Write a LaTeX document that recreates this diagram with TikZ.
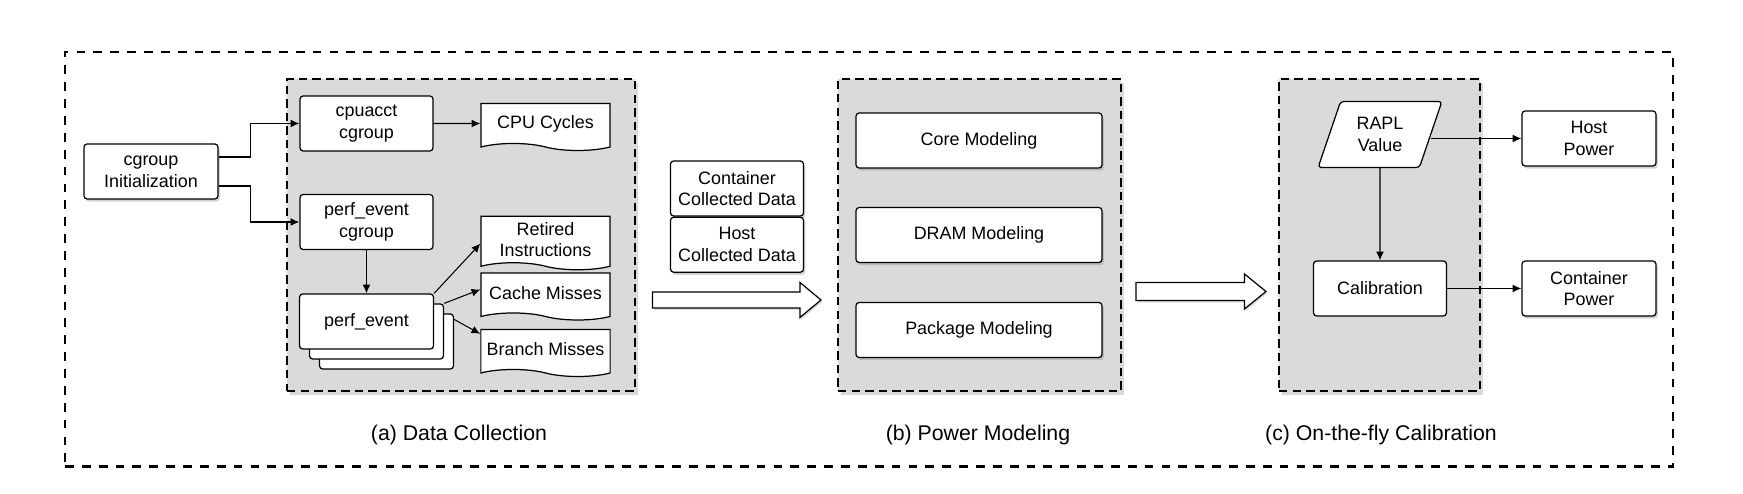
\documentclass[tikz,border=0pt]{standalone}
\usepackage{fontspec}
\setmainfont{Liberation Sans}
\usetikzlibrary{shapes.geometric,shapes.symbols,arrows.meta,positioning,shadows}
\definecolor{panelgray}{RGB}{218,218,218}
\newcommand{\boxfont}{\fontsize{10.2pt}{12.3pt}\selectfont}

\begin{document}
\begin{tikzpicture}[
	outerbox/.style={
		rectangle,
		draw=black,
		line width=1.3pt,
		dash pattern=on 5pt off 4.6pt
	},
	panel/.style={
		rectangle,
		draw=black,
		fill=panelgray,
		line width=1.4pt,
		dash pattern=on 4.8pt off 2.9pt,
		minimum height=6.24cm,
		drop shadow={shadow xshift=1.5pt, shadow yshift=-2pt, opacity=0.3}
	},
	procbox/.style={
		rectangle,
		rounded corners=1.8pt,
		draw=black,
		fill=white,
		line width=0.7pt,
		minimum width=2.66cm,
		minimum height=1.1cm,
		align=center,
		font=\boxfont
	},
	shadowed/.style={
		drop shadow={shadow xshift=1pt, shadow yshift=-1.5pt, opacity=0.35}
	},
	docbox/.style={
		tape,
		tape bend top=none,
		tape bend bottom=out and in,
		tape bend height=4pt,
		draw=black,
		fill=white,
		line width=0.7pt,
		minimum width=2.58cm,
		minimum height=0.94cm,
		align=center,
		font=\boxfont
	},
	arrow/.style={
		-{Latex[length=5pt,width=4.5pt]},
		line width=0.6pt
	},
	bigarrow/.style={
		draw=black,
		fill=white,
		line width=0.7pt,
		drop shadow={shadow xshift=0.8pt, shadow yshift=-1.2pt, opacity=0.25}
	},
	caption/.style={
		font=\fontsize{12.1pt}{14pt}\selectfont
	}
	]
	
	\useasboundingbox (0,0) rectangle (34.86,9.88);
	
	% Outer frame
	\node[outerbox, minimum width=32.16cm, minimum height=8.29cm] (outer) at (17.38,4.695) {};
	
	% Panels
	\node[panel, minimum width=6.96cm] (panelA) at (9.22,5.18) {};
	\node[panel, minimum width=5.66cm] (panelB) at (19.59,5.18) {};
	\node[panel, minimum width=4.02cm] (panelC) at (27.59,5.18) {};
	
	% Panel captions
	\node[caption] (capA) at (9.18,1.18) {(a) Data Collection};
	\node[caption] (capB) at (19.56,1.18) {(b) Power Modeling};
	\node[caption] (capC) at (27.62,1.18) {(c) On-the-fly Calibration};
	
	% Data collection
	\node[procbox, shadowed, minimum width=2.68cm] (init) at (3.02,6.45) {cgroup\\Initialization};
	\node[procbox] (cpuacct) at (7.33,7.41) {cpuacct\\cgroup};
	\node[procbox] (pcg) at (7.33,5.44) {perf\_event\\cgroup};
	\node[procbox, minimum width=2.68cm] (pe3) at (7.73,3.05) {};
	\node[procbox, minimum width=2.68cm] (pe2) at (7.53,3.25) {};
	\node[procbox, minimum width=2.68cm] (pe1) at (7.33,3.45) {perf\_event};
	
	\node[docbox] (cpu) at (10.91,7.41) {CPU Cycles};
	\node[docbox] (retired) at (10.91,5.09) {Retired\\Instructions};
	\node[docbox] (cache) at (10.91,4.02) {Cache Misses};
	\node[docbox] (branch) at (10.91,2.89) {Branch Misses};
	
	\draw[arrow] ([yshift=0.29cm]init.east) -- ++(0.64,0) |- (cpuacct.west);
	\draw[arrow] ([yshift=-0.29cm]init.east) -- ++(0.64,0) |- (pcg.west);
	\draw[arrow] (cpuacct) -- (cpu);
	\draw[arrow] (pcg) -- (pe1);
	\draw[arrow] (pe1.north east) -- ([yshift=-0.56cm]retired.north west);
	\draw[arrow] (pe2.north east) -- ([yshift=-0.34cm]cache.north west);
	\draw[arrow] ([yshift=-0.12cm]pe3.north east) -- ([yshift=-0.1cm]branch.north west);
	
	% Collected data
	\node[procbox, shadowed] (cdata) at (14.74,6.11) {Container\\Collected Data};
	\node[procbox, shadowed, below=0pt of cdata] (hdata) {Host\\Collected Data};
	\draw[bigarrow] (13.05,3.72) -- (16.0,3.72) -- (16.0,3.53) -- (16.42,3.88) -- (16.0,4.23) -- (16.0,4.04) -- (13.05,4.04) -- cycle;
	
	% Power modeling
	\node[procbox, shadowed, minimum width=4.92cm] (core) at (19.58,7.07) {Core Modeling};
	\node[procbox, shadowed, minimum width=4.92cm] (dram) at (19.58,5.18) {DRAM Modeling};
	\node[procbox, shadowed, minimum width=4.92cm] (pkg) at (19.58,3.28) {Package Modeling};
	\draw[bigarrow] (22.72,3.87) -- (24.89,3.87) -- (24.89,3.70) -- (25.32,4.05) -- (24.89,4.40) -- (24.89,4.23) -- (22.72,4.23) -- cycle;
	
	% Calibration
	\node[procbox, trapezium, trapezium left angle=70, trapezium right angle=110, trapezium stretches=true, minimum width=2.48cm, minimum height=1.32cm] (rapl) at (27.60,7.19) {RAPL\\Value};
	\node[procbox] (calib) at (27.60,4.11) {Calibration};
	\node[procbox, shadowed, minimum width=2.68cm] (hpower) at (31.78,7.11) {Host\\Power};
	\node[procbox, shadowed, minimum width=2.68cm] (cpower) at (31.78,4.11) {Container\\Power};
	
	\draw[arrow] (rapl) -- (calib);
	\draw[arrow] (rapl.east |- hpower.west) -- (hpower.west);
	\draw[arrow] (calib) -- (cpower);
	
\end{tikzpicture}
\end{document}
